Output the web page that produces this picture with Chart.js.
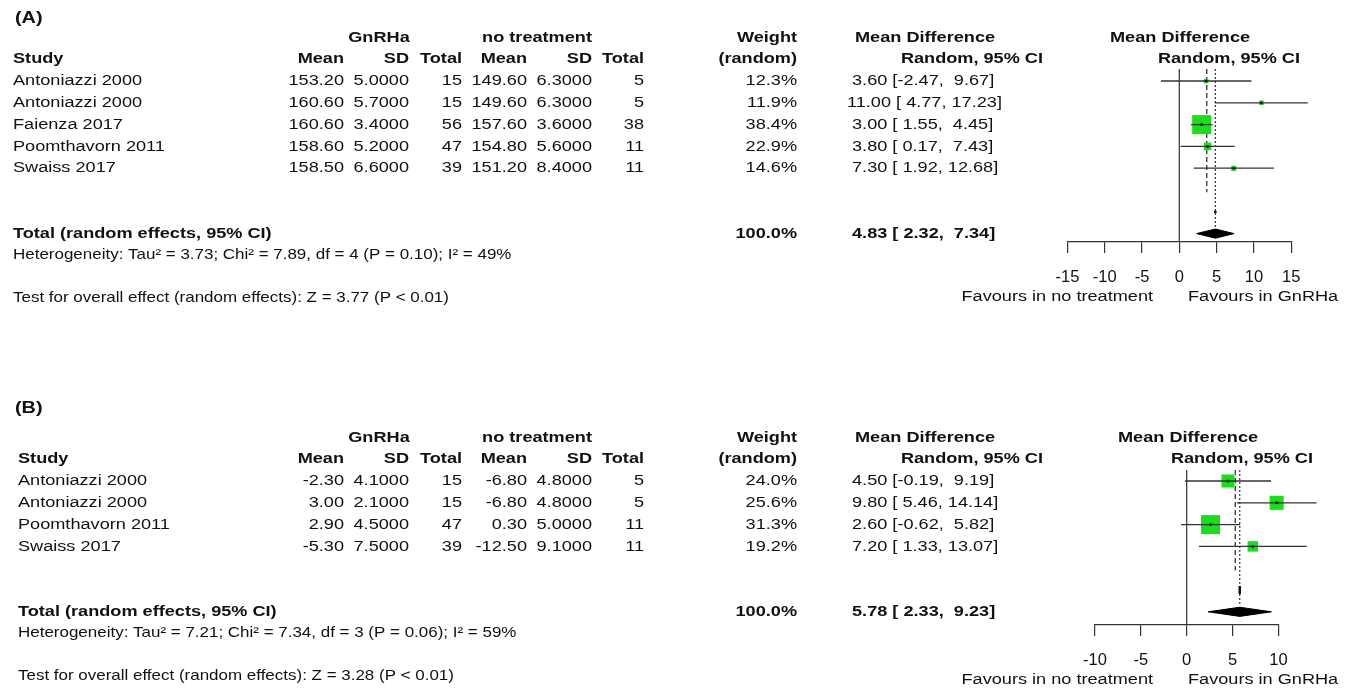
<!DOCTYPE html>
<html>
<head>
<meta charset="utf-8">
<script src="https://cdn.jsdelivr.net/npm/chart.js@4.4.1/dist/chart.umd.min.js"></script>
<style>
  html, body { margin: 0; padding: 0; background: #fff; }
  .panel { position: absolute; left: 0; width: 1348px; height: 344px; }
</style>
</head>
<body>
<div class="panel" style="top:0"><canvas id="forestA"></canvas></div>
<div class="panel" style="top:344px"><canvas id="forestB"></canvas></div>
<script>
// (A) final height
const studiesA = ['Antoniazzi 2000', 'Antoniazzi 2000', 'Faienza 2017', 'Poomthavorn 2011', 'Swaiss 2017']
const gnMeanA = [153.20, 160.60, 160.60, 158.60, 158.50]
const gnSdA = [5.0, 5.7, 3.4, 5.2, 6.6]
const gnTotalA = [15, 15, 56, 47, 39]
const ntMeanA = [149.60, 149.60, 157.60, 154.80, 151.20]
const ntSdA = [6.3, 6.3, 3.6, 5.6, 8.4]
const ntTotalA = [5, 5, 38, 11, 11]
const weightA = [12.3, 11.9, 38.4, 22.9, 14.6]
const mdA = [3.60, 11.00, 3.00, 3.80, 7.30]
const lowerA = [-2.47, 4.77, 1.55, 0.17, 1.92]
const upperA = [9.67, 17.23, 4.45, 7.43, 12.68]
const pooledA = [4.83, 2.32, 7.34]   // estimate, lower, upper
const fixedA = 3.68
const hetA = 'Heterogeneity: Tau\u00b2 = 3.73; Chi\u00b2 = 7.89, df = 4 (P = 0.10); I\u00b2 = 49%'
const testA = 'Test for overall effect (random effects): Z = 3.77 (P < 0.01)'
const ticksA = [-15, -10, -5, 0, 5, 10, 15]

// (B) growth
const studiesB = ['Antoniazzi 2000', 'Antoniazzi 2000', 'Poomthavorn 2011', 'Swaiss 2017']
const gnMeanB = [-2.30, 3.00, 2.90, -5.30]
const gnSdB = [4.1, 2.1, 4.5, 7.5]
const gnTotalB = [15, 15, 47, 39]
const ntMeanB = [-6.80, -6.80, 0.30, -12.50]
const ntSdB = [4.8, 4.8, 5.0, 9.1]
const ntTotalB = [5, 5, 11, 11]
const weightB = [24.0, 25.6, 31.3, 19.2]
const mdB = [4.50, 9.80, 2.60, 7.20]
const lowerB = [-0.19, 5.46, -0.62, 1.33]
const upperB = [9.19, 14.14, 5.82, 13.07]
const pooledB = [5.78, 2.33, 9.23]
const fixedB = 5.29
const hetB = 'Heterogeneity: Tau\u00b2 = 7.21; Chi\u00b2 = 7.34, df = 3 (P = 0.06); I\u00b2 = 59%'
const testB = 'Test for overall effect (random effects): Z = 3.28 (P < 0.01)'
const ticksB = [-10, -5, 0, 5, 10]

const W = 1348, H = 344
const ROW_H = 21.8
const AXIS_H = 45
const SX = 1.17   // text is a bit wide in this layout
const FONT = '"Liberation Sans", Arial, Helvetica, sans-serif'
const INK = '#111'
const LINE = '#333'
const GREEN = '#16e016'

function txt(ctx, s, x, y, align, size, bold) {
  ctx.save()
  ctx.translate(x, y)
  ctx.scale(SX, 1)
  ctx.font = (bold ? 'bold ' : '') + size + 'px ' + FONT
  ctx.textAlign = align
  ctx.textBaseline = 'middle'
  ctx.fillStyle = INK
  ctx.fillText(s, 0, 0)
  ctx.restore()
}

function pad(v, w) {
  let s = v.toFixed(2)
  while (s.length < w) s = ' ' + s
  return s
}
const ciLabel = (m, lo, hi) => pad(m, 5) + ' [' + pad(lo, 5) + ', ' + pad(hi, 5) + ']'

// box side from inverse variance of each CI, biggest box = maxSide px
function boxSides(lo, hi, maxSide) {
  const w = lo.map((l, i) => 1 / Math.pow((hi[i] - l) / 3.92, 2))
  const wmax = Math.max(...w)
  return w.map(v => maxSide * Math.sqrt(v / wmax))
}

function drawTable(chart, p) {
  const ctx = chart.ctx
  const ys = chart.scales.y
  const n = p.studies.length
  const L = p.left
  const h1 = ys.getPixelForValue(-2), h2 = ys.getPixelForValue(-1)
  const FS = 15.5

  txt(ctx, p.title, p.titleX, p.titleY, 'left', 17, true)

  txt(ctx, 'GnRHa', 379, h1, 'center', FS, true)
  txt(ctx, 'no treatment', 537, h1, 'center', FS, true)
  txt(ctx, 'Weight', 797, h1, 'right', FS, true)
  txt(ctx, 'Mean Difference', 855, h1, 'left', FS, true)
  txt(ctx, 'Mean Difference', p.fhL, h1, 'left', FS, true)

  txt(ctx, 'Study', L, h2, 'left', FS, true)
  txt(ctx, 'Mean', 344, h2, 'right', FS, true)
  txt(ctx, 'SD', 409, h2, 'right', FS, true)
  txt(ctx, 'Total', 462, h2, 'right', FS, true)
  txt(ctx, 'Mean', 527, h2, 'right', FS, true)
  txt(ctx, 'SD', 592, h2, 'right', FS, true)
  txt(ctx, 'Total', 644, h2, 'right', FS, true)
  txt(ctx, '(random)', 797, h2, 'right', FS, true)
  txt(ctx, 'Random, 95% CI', 1043, h2, 'right', FS, true)
  txt(ctx, 'Random, 95% CI', p.fhR, h2, 'right', FS, true)

  for (let i = 0; i < n; i++) {
    const y = ys.getPixelForValue(i)
    txt(ctx, p.studies[i], L, y, 'left', FS)
    txt(ctx, p.gnMean[i].toFixed(2), 344, y, 'right', FS)
    txt(ctx, p.gnSd[i].toFixed(4), 409, y, 'right', FS)
    txt(ctx, String(p.gnTotal[i]), 462, y, 'right', FS)
    txt(ctx, p.ntMean[i].toFixed(2), 527, y, 'right', FS)
    txt(ctx, p.ntSd[i].toFixed(4), 592, y, 'right', FS)
    txt(ctx, String(p.ntTotal[i]), 644, y, 'right', FS)
    txt(ctx, p.weight[i].toFixed(1) + '%', 797, y, 'right', FS)
    txt(ctx, ciLabel(p.md[i], p.lower[i], p.upper[i]), 847, y, 'left', FS)
  }

  const ty = ys.getPixelForValue(n + 2)
  txt(ctx, 'Total (random effects, 95% CI)', L, ty, 'left', FS, true)
  txt(ctx, '100.0%', 797, ty, 'right', FS, true)
  txt(ctx, ciLabel(p.pooled[0], p.pooled[1], p.pooled[2]), 847, ty, 'left', FS, true)
  txt(ctx, p.het, L, ty + 21, 'left', 14.5)
  txt(ctx, p.test, L, ty + 64, 'left', 14.5)

  const fy = chart.chartArea.bottom + 55
  txt(ctx, 'Favours in no treatment', 1153, fy, 'right', FS)
  txt(ctx, 'Favours in GnRHa', 1188, fy, 'left', FS)
}

function makePanel(id, p) {
  const n = p.studies.length
  const yMin = (p.plotTop - p.rowTop) / ROW_H
  const yMax = (p.plotBottom - p.rowTop) / ROW_H
  const tot = n + 2
  const sides = boxSides(p.lower, p.upper, 19)
  const [re, rlo, rhi] = p.pooled
  const seg = (pts, extra) => Object.assign({
    type: 'line', data: pts, borderColor: LINE, borderWidth: 1.2,
    pointRadius: 0, tension: 0, clip: false, fill: false
  }, extra)

  const datasets = []
  // confidence intervals
  p.lower.forEach((lo, i) => {
    datasets.push(seg([{ x: lo, y: i }, { x: p.upper[i], y: i }], { borderWidth: 1.3, order: 1 }))
  })
  // study estimates
  datasets.push({
    type: 'scatter', data: p.md.map((m, i) => ({ x: m, y: i })), clip: false,
    pointStyle: 'circle', pointRadius: 1.5, backgroundColor: '#1c1c1c', borderWidth: 0, order: 0
  })
  datasets.push({
    type: 'scatter', data: p.md.map((m, i) => ({ x: m, y: i })), clip: false,
    pointStyle: 'rect', pointRadius: sides.map(s => s / (2 * Math.SQRT1_2)),
    backgroundColor: GREEN, borderWidth: 0, order: 3
  })
  // reference lines
  datasets.push(seg([{ x: 0, y: yMin }, { x: 0, y: yMax }], { order: 5 }))
  datasets.push(seg([{ x: p.fixed, y: yMin }, { x: p.fixed, y: n + 0.1 }], { borderDash: [5, 3], borderWidth: 1.3, order: 4 }))
  datasets.push(seg([{ x: re, y: yMin }, { x: re, y: tot - 0.3 }], { borderDash: [2, 2], order: 4 }))
  datasets.push(seg([{ x: re, y: n + 1 - p.mark }, { x: re, y: n + 1 + p.mark }], { borderColor: '#111', borderWidth: 2.5, order: 2 }))
  // pooled diamond
  datasets.push(seg([
    { x: rlo, y: tot }, { x: re, y: tot - 0.21 }, { x: rhi, y: tot },
    { x: re, y: tot + 0.21 }, { x: rlo, y: tot }
  ], { borderColor: '#000', borderWidth: 1, backgroundColor: '#000', fill: 'shape', order: 0 }))

  const ticks = p.ticks
  new Chart(document.getElementById(id), {
    type: 'scatter',
    data: { datasets },
    options: {
      responsive: true,
      maintainAspectRatio: false,
      animation: false,
      events: [],
      layout: { padding: { left: p.xLeft, right: W - p.xRight, top: p.plotTop, bottom: H - p.plotBottom - AXIS_H } },
      plugins: { legend: { display: false }, tooltip: { enabled: false } },
      scales: {
        x: {
          type: 'linear', min: ticks[0], max: ticks[ticks.length - 1],
          afterBuildTicks: s => { s.ticks = ticks.map(v => ({ value: v })) },
          afterFit: s => { s.height = AXIS_H },
          grid: { drawOnChartArea: false, drawTicks: true, tickLength: 11, color: LINE, lineWidth: 1.2 },
          border: { display: true, color: LINE, width: 1.2 },
          ticks: { color: INK, font: { family: FONT, size: 16.5 }, padding: 15, maxRotation: 0, autoSkip: false }
        },
        y: { type: 'linear', display: false, reverse: true, min: yMin, max: yMax }
      }
    },
    plugins: [{ id: 'forestTable', afterDraw: chart => drawTable(chart, p) }]
  })
}

makePanel('forestA', {
  title: '(A)', studies: studiesA, gnMean: gnMeanA, gnSd: gnSdA, gnTotal: gnTotalA,
  ntMean: ntMeanA, ntSd: ntSdA, ntTotal: ntTotalA, weight: weightA,
  md: mdA, lower: lowerA, upper: upperA, pooled: pooledA, fixed: fixedA,
  het: hetA, test: testA, ticks: ticksA,
  left: 13, titleX: 15, titleY: 18, rowTop: 81, plotTop: 69, plotBottom: 242,
  xLeft: 1067.4, xRight: 1291.2, fhL: 1110, fhR: 1300, mark: 0.05
})

makePanel('forestB', {
  title: '(B)', studies: studiesB, gnMean: gnMeanB, gnSd: gnSdB, gnTotal: gnTotalB,
  ntMean: ntMeanB, ntSd: ntSdB, ntTotal: ntTotalB, weight: weightB,
  md: mdB, lower: lowerB, upper: upperB, pooled: pooledB, fixed: fixedB,
  het: hetB, test: testB, ticks: ticksB,
  left: 18, titleX: 15, titleY: 64, rowTop: 137, plotTop: 126, plotBottom: 281,
  xLeft: 1094.9, xRight: 1278.5, fhL: 1118, fhR: 1313, mark: 0.18
})
</script>
</body>
</html>
